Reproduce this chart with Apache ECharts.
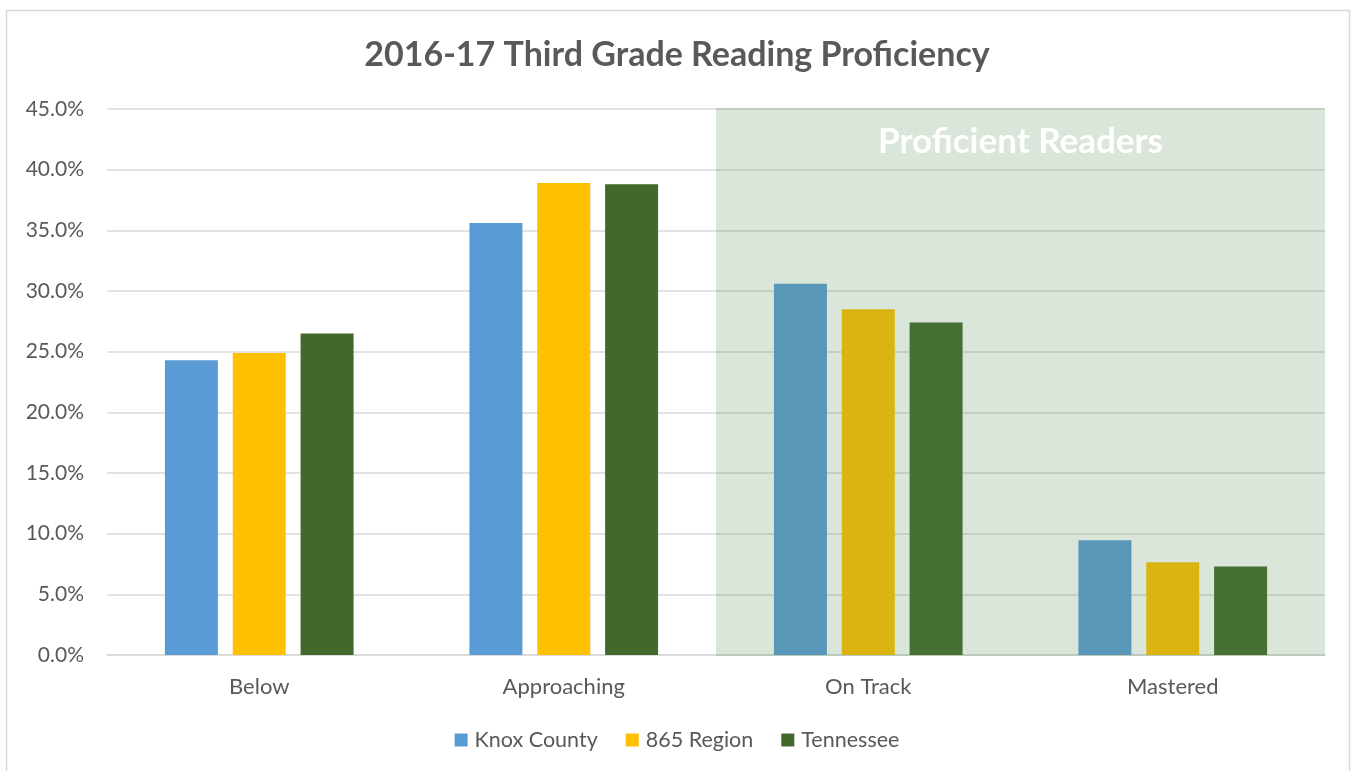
<!DOCTYPE html>
<html>
<head>
<meta charset="utf-8">
<title>2016-17 Third Grade Reading Proficiency</title>
<script src="https://cdn.jsdelivr.net/npm/echarts@6/dist/echarts.min.js"></script>
<style>
  html, body { margin: 0; padding: 0; background: #ffffff; }
  #chart { width: 1354px; height: 771px; }
</style>
</head>
<body>
<div id="chart"></div>
<script>
// Reading proficiency levels and share of third graders at each level (%)
const categories = ['Below', 'Approaching', 'On Track', 'Mastered'];
const knoxCounty = [24.3, 35.6, 30.6, 9.45];
const region865 = [24.9, 38.9, 28.5, 7.65];
const tennessee = [26.5, 38.8, 27.4, 7.3];
const seriesNames = ['Knox County', '865 Region', 'Tennessee'];
const yTicks = { min: 0, max: 45, interval: 5 };
// Levels grouped under the shaded "Proficient Readers" band
const proficientFrom = 'On Track';
const proficientTo = 'Mastered';
const proficientLabel = 'Proficient Readers';

const FONT = 'Lato, "Open Sans", sans-serif';
const TEXT = '#595959';
const GRID = '#D9D9D9';

const chart = echarts.init(document.getElementById('chart'), null, { renderer: 'canvas' });

const bar = (name, data, color) => ({
  name, type: 'bar', data,
  barWidth: 53, barGap: '28%',
  itemStyle: { color },
  emphasis: { disabled: true }
});

chart.setOption({
  backgroundColor: '#ffffff',
  animation: false,
  textStyle: { fontFamily: FONT },
  title: {
    text: '2016-17 Third Grade Reading Proficiency',
    left: 'center', top: 33,
    textStyle: { fontFamily: FONT, fontSize: 34, fontWeight: 'bold', color: TEXT }
  },
  legend: {
    data: seriesNames,
    bottom: 15, left: 'center',
    itemWidth: 13, itemHeight: 13, itemGap: 28,
    icon: 'rect',
    textStyle: { fontFamily: FONT, fontSize: 21.5, color: TEXT, padding: [0, 0, 0, 2] }
  },
  grid: { left: 107, right: 29, top: 109, bottom: 116, containLabel: false },
  xAxis: {
    type: 'category', data: categories,
    axisLine: { lineStyle: { color: GRID, width: 1.5 } },
    axisTick: { show: false },
    axisLabel: { fontFamily: FONT, fontSize: 22, color: TEXT, margin: 21 }
  },
  yAxis: {
    type: 'value', min: yTicks.min, max: yTicks.max, interval: yTicks.interval,
    axisLine: { show: false },
    axisTick: { show: false },
    splitLine: { lineStyle: { color: GRID, width: 1.5 } },
    axisLabel: {
      fontFamily: FONT, fontSize: 21, color: TEXT, margin: 23,
      formatter: v => v.toFixed(1) + '%'
    }
  },
  series: [
    bar(seriesNames[0], knoxCounty, '#5B9BD5'),
    bar(seriesNames[1], region865, '#FFC000'),
    bar(seriesNames[2], tennessee, '#43682B')
  ]
});

// Shaded band over the proficient levels, placed from the axis scales
function drawBand() {
  const c1 = chart.convertToPixel({ xAxisIndex: 0 }, proficientFrom);
  const c2 = chart.convertToPixel({ xAxisIndex: 0 }, proficientTo);
  const band = c2 - c1;
  const x0 = c1 - band / 2;
  const x1 = c2 + band / 2;
  const yTop = chart.convertToPixel({ yAxisIndex: 0 }, yTicks.max);
  const yBot = chart.convertToPixel({ yAxisIndex: 0 }, yTicks.min);
  chart.setOption({
    graphic: [
      {
        type: 'rect', id: 'frame', z: 0, silent: true,
        shape: { x: 6.5, y: 10.5, width: 1343, height: 780 },
        style: { fill: 'none', stroke: '#D9D9D9', lineWidth: 1.5 }
      },
      {
        type: 'rect', id: 'band', z: 100, silent: true,
        shape: { x: x0, y: yTop - 1, width: x1 - x0, height: yBot - yTop + 2 },
        style: { fill: 'rgba(86,136,82,0.21)' }
      },
      {
        type: 'text', id: 'bandLabel', z: 101, silent: true,
        x: (x0 + x1) / 2, y: yTop + 33,
        style: {
          text: proficientLabel, fill: '#ffffff',
          font: 'bold 35px ' + FONT,
          textAlign: 'center', textVerticalAlign: 'middle'
        }
      }
    ]
  });
}
drawBand();
</script>
</body>
</html>
